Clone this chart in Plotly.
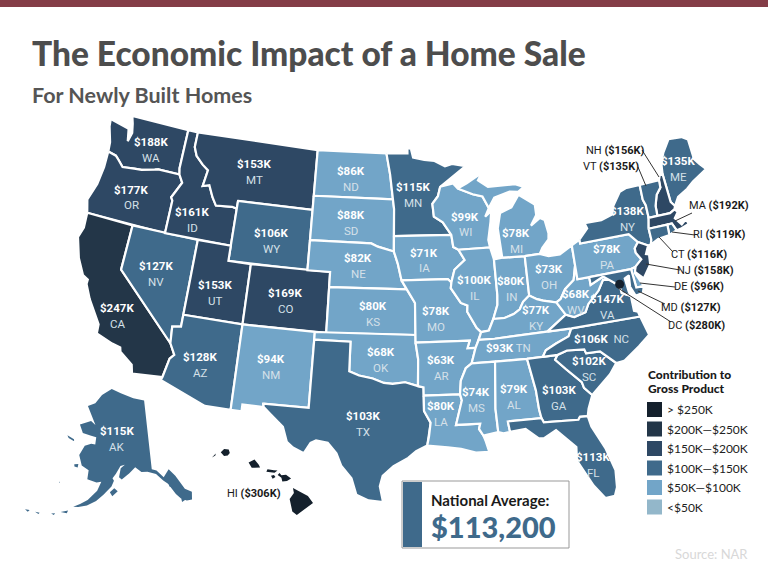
# coding:utf-8
import numpy as np
import plotly.graph_objects as go

W, H = 768, 576

# contribution to gross product, thousands of dollars
states = ["WA", "OR", "CA", "NV", "ID", "MT", "WY", "UT", "CO", "AZ", "NM", "ND", "SD", "NE", "KS", "OK", "TX",
          "MN", "IA", "MO", "AR", "LA", "WI", "IL", "IN", "MI", "OH", "KY", "TN", "MS", "AL", "GA", "FL", "SC",
          "NC", "VA", "WV", "PA", "NY", "ME", "NH", "VT", "MA", "RI", "CT", "NJ", "DE", "MD", "AK", "HI"]
values = [188, 177, 247, 127, 161, 153, 106, 153, 169, 128, 94, 86, 88, 82, 80, 68, 103,
          115, 71, 78, 63, 80, 99, 100, 80, 78, 73, 77, 93, 74, 79, 103, 113, 102,
          106, 147, 68, 78, 138, 135, 156, 135, 192, 119, 116, 158, 96, 127, 115, 306]
dc_value = 280
national_average = "$113,200"
band_labels = ["> $250K", "$200K—$250K", "$150K—$200K", "$100K—$150K", "$50K—$100K", "<$50K"]
band_colors = ["#14202c", "#233648", "#2e4864", "#3f6a8b", "#72a5c8", "#93b7ca"]

# simplified state outlines, lon/lat
outlines = {
    "WA": [[(-124.7, 48.4), (-123.1, 48.15), (-122.75, 48.1), (-122.5, 47.3), (-122.3, 47.9), (-122.5, 48.5), (-122.75, 49.0),
            (-117.03, 49.0), (-117.04, 46.4), (-116.92, 45.99), (-118.98, 46.0), (-119.3, 45.93), (-120.5, 45.7),
            (-121.2, 45.65), (-122.3, 45.55), (-122.8, 45.9), (-123.2, 46.15), (-124.0, 46.27), (-124.1, 46.9), (-124.6, 47.9)]],
    "OR": [[(-124.0, 46.27), (-123.2, 46.15), (-122.8, 45.9), (-122.3, 45.55), (-121.2, 45.65), (-120.5, 45.7), (-119.3, 45.93),
            (-118.98, 46.0), (-116.92, 45.99), (-116.5, 45.5), (-116.85, 44.95), (-117.2, 44.4), (-117.03, 44.2), (-117.03, 42.0),
            (-124.2, 42.0), (-124.55, 42.85), (-124.1, 44.0), (-123.95, 45.2)]],
    "CA": [[(-124.2, 42.0), (-120.0, 42.0), (-120.0, 39.0), (-114.63, 35.0), (-114.14, 34.3), (-114.45, 34.0), (-114.72, 32.72),
            (-117.12, 32.53), (-117.3, 33.1), (-118.4, 33.75), (-118.5, 34.03), (-119.2, 34.15), (-120.6, 34.55), (-120.65, 35.15),
            (-121.9, 36.6), (-122.5, 37.5), (-122.5, 37.8), (-123.0, 38.0), (-123.75, 39.0), (-124.35, 40.3), (-124.1, 41.0)]],
    "NV": [[(-120.0, 42.0), (-114.04, 42.0), (-114.04, 36.2), (-114.75, 36.1), (-114.63, 35.0), (-120.0, 39.0)]],
    "ID": [[(-117.03, 49.0), (-116.05, 49.0), (-116.05, 48.0), (-115.7, 47.45), (-114.95, 46.95), (-114.35, 46.65), (-114.55, 45.56),
            (-113.95, 45.7), (-113.45, 44.95), (-113.0, 44.45), (-111.5, 44.55), (-111.05, 44.48), (-111.05, 42.0), (-117.03, 42.0),
            (-117.03, 44.2), (-117.2, 44.4), (-116.85, 44.95), (-116.5, 45.5), (-116.92, 45.99), (-117.04, 46.4)]],
    "MT": [[(-116.05, 49.0), (-104.05, 49.0), (-104.05, 45.0), (-111.05, 45.0), (-111.05, 44.48), (-111.5, 44.55), (-113.0, 44.45),
            (-113.45, 44.95), (-113.95, 45.7), (-114.55, 45.56), (-114.35, 46.65), (-114.95, 46.95), (-115.7, 47.45), (-116.05, 48.0)]],
    "WY": [[(-111.05, 45.0), (-104.05, 45.0), (-104.05, 41.0), (-111.05, 41.0)]],
    "UT": [[(-114.04, 42.0), (-111.05, 42.0), (-111.05, 41.0), (-109.05, 41.0), (-109.05, 37.0), (-114.04, 37.0)]],
    "CO": [[(-109.05, 41.0), (-102.05, 41.0), (-102.05, 37.0), (-109.05, 37.0)]],
    "AZ": [[(-114.04, 37.0), (-109.05, 37.0), (-109.05, 31.33), (-111.07, 31.33), (-114.81, 32.5), (-114.72, 32.72), (-114.45, 34.0),
            (-114.14, 34.3), (-114.63, 35.0), (-114.75, 36.1), (-114.04, 36.2)]],
    "NM": [[(-109.05, 37.0), (-103.0, 37.0), (-103.04, 32.0), (-106.6, 32.0), (-106.53, 31.78), (-108.2, 31.78), (-108.2, 31.33), (-109.05, 31.33)]],
    "ND": [[(-104.05, 49.0), (-97.23, 49.0), (-96.85, 47.6), (-96.56, 45.94), (-104.05, 45.94)]],
    "SD": [[(-104.05, 45.94), (-96.56, 45.94), (-96.45, 45.3), (-96.45, 43.5), (-96.45, 42.49), (-97.9, 42.8), (-98.5, 43.0), (-104.05, 43.0)]],
    "NE": [[(-104.05, 43.0), (-98.5, 43.0), (-97.9, 42.8), (-96.45, 42.49), (-96.1, 41.7), (-95.9, 41.0), (-95.77, 40.59), (-95.31, 40.0),
            (-102.05, 40.0), (-102.05, 41.0), (-104.05, 41.0)]],
    "KS": [[(-102.05, 40.0), (-95.31, 40.0), (-94.62, 39.1), (-94.62, 37.0), (-102.05, 37.0)]],
    "OK": [[(-103.0, 37.0), (-94.62, 37.0), (-94.62, 36.5), (-94.43, 35.4), (-94.48, 33.64), (-95.5, 33.9), (-96.5, 33.8), (-97.2, 33.85),
            (-98.1, 34.13), (-99.2, 34.3), (-100.0, 34.56), (-100.0, 36.5), (-103.0, 36.5)]],
    "TX": [[(-106.6, 32.0), (-103.04, 32.0), (-103.0, 36.5), (-100.0, 36.5), (-100.0, 34.56), (-99.2, 34.3), (-98.1, 34.13), (-97.2, 33.85),
            (-96.5, 33.8), (-95.5, 33.9), (-94.48, 33.64), (-94.04, 33.55), (-94.04, 33.0), (-94.04, 31.99), (-93.55, 31.2), (-93.7, 30.3),
            (-93.85, 29.7), (-94.7, 29.35), (-95.3, 28.9), (-96.4, 28.35), (-97.2, 27.7), (-97.4, 27.0), (-97.15, 25.96), (-98.2, 26.05),
            (-99.1, 26.4), (-99.5, 27.5), (-100.3, 28.3), (-100.7, 29.1), (-101.4, 29.77), (-102.3, 29.88), (-102.7, 29.7), (-103.15, 28.98),
            (-104.0, 29.3), (-104.5, 29.65), (-104.9, 30.6), (-106.0, 31.4), (-106.53, 31.78)]],
    "MN": [[(-97.23, 49.0), (-95.15, 49.0), (-95.15, 49.38), (-94.8, 49.3), (-94.6, 48.72), (-93.5, 48.55), (-92.5, 48.45), (-91.5, 48.07),
            (-90.8, 48.2), (-89.5, 48.0), (-92.05, 46.72), (-92.3, 46.1), (-92.85, 45.6), (-92.75, 44.75), (-91.95, 44.35), (-91.22, 43.5),
            (-96.45, 43.5), (-96.45, 45.3), (-96.56, 45.94), (-96.85, 47.6)]],
    "IA": [[(-96.45, 43.5), (-91.22, 43.5), (-91.1, 42.7), (-90.65, 42.5), (-90.15, 41.8), (-91.1, 41.2), (-91.42, 40.38), (-91.73, 40.61),
            (-95.77, 40.59), (-95.9, 41.0), (-96.1, 41.7), (-96.45, 42.49)]],
    "MO": [[(-95.77, 40.59), (-91.73, 40.61), (-91.42, 40.38), (-91.5, 40.0), (-90.7, 39.0), (-90.15, 38.8), (-90.2, 38.4), (-89.5, 37.3),
            (-89.15, 37.0), (-89.4, 36.5), (-89.7, 36.0), (-90.37, 36.0), (-90.15, 36.5), (-94.62, 36.5), (-94.62, 37.0), (-94.62, 39.1), (-95.31, 40.0)]],
    "AR": [[(-94.62, 36.5), (-90.15, 36.5), (-90.37, 36.0), (-89.7, 36.0), (-90.1, 35.0), (-90.6, 34.7), (-91.05, 33.9), (-91.17, 33.0),
            (-94.04, 33.0), (-94.04, 33.55), (-94.48, 33.64), (-94.43, 35.4)]],
    "LA": [[(-94.04, 33.0), (-91.17, 33.0), (-91.05, 32.6), (-91.6, 31.0), (-89.73, 31.0), (-89.85, 30.65), (-89.55, 30.2), (-89.4, 29.8),
            (-89.2, 29.1), (-90.2, 29.1), (-91.3, 29.4), (-92.3, 29.55), (-93.85, 29.7), (-93.7, 30.3), (-93.55, 31.2), (-94.04, 31.99)]],
    "MS": [[(-90.1, 35.0), (-88.2, 35.0), (-88.47, 31.9), (-88.4, 30.35), (-89.55, 30.2), (-89.85, 30.65), (-89.73, 31.0), (-91.6, 31.0),
            (-91.05, 32.6), (-91.17, 33.0), (-91.05, 33.9), (-90.6, 34.7)]],
    "TN": [[(-90.1, 35.0), (-88.2, 35.0), (-85.6, 34.98), (-84.32, 34.99), (-84.0, 35.4), (-83.1, 35.75), (-82.0, 36.1), (-81.68, 36.59),
            (-83.68, 36.6), (-88.07, 36.5), (-89.4, 36.5), (-89.7, 36.0)]],
    "KY": [[(-89.15, 37.0), (-88.5, 37.07), (-88.05, 37.8), (-87.1, 37.8), (-86.3, 38.0), (-85.75, 38.27), (-85.4, 38.73), (-84.82, 39.1),
            (-84.2, 38.8), (-83.7, 38.65), (-82.6, 38.42), (-81.97, 37.54), (-83.68, 36.6), (-88.07, 36.5), (-89.4, 36.5)]],
    "IL": [[(-90.65, 42.5), (-87.8, 42.5), (-87.55, 41.7), (-87.53, 39.35), (-87.6, 38.7), (-88.05, 37.8), (-88.5, 37.07), (-89.15, 37.0),
            (-89.5, 37.3), (-90.2, 38.4), (-90.15, 38.8), (-90.7, 39.0), (-91.5, 40.0), (-91.42, 40.38), (-91.1, 41.2), (-90.15, 41.8)]],
    "IN": [[(-87.55, 41.7), (-87.2, 41.75), (-86.8, 41.76), (-84.8, 41.7), (-84.82, 39.1), (-85.4, 38.73), (-85.75, 38.27), (-86.3, 38.0),
            (-87.1, 37.8), (-88.05, 37.8), (-87.6, 38.7), (-87.53, 39.35)]],
    "OH": [[(-84.8, 41.7), (-83.45, 41.73), (-82.7, 41.5), (-81.7, 41.5), (-80.52, 41.98), (-80.52, 40.64), (-80.85, 39.7), (-81.7, 39.2),
            (-82.2, 38.6), (-82.6, 38.42), (-83.7, 38.65), (-84.2, 38.8), (-84.82, 39.1)]],
    "WI": [[(-92.05, 46.72), (-90.8, 46.9), (-90.4, 46.55), (-89.0, 46.1), (-88.1, 45.9), (-87.6, 45.1), (-88.0, 44.55), (-87.4, 44.9),
            (-87.55, 44.2), (-87.9, 43.0), (-87.8, 42.5), (-90.65, 42.5), (-91.1, 42.7), (-91.22, 43.5), (-91.95, 44.35), (-92.75, 44.75),
            (-92.85, 45.6), (-92.3, 46.1)]],
    "MI": [[(-86.8, 41.76), (-84.8, 41.7), (-83.45, 41.73), (-83.15, 42.1), (-82.5, 42.6), (-82.42, 43.0), (-82.6, 43.9), (-83.0, 44.07),
            (-83.9, 43.65), (-83.3, 44.3), (-83.3, 45.0), (-84.7, 45.78), (-85.5, 45.0), (-86.6, 44.7), (-86.95, 43.7), (-86.85, 42.8)],
           [(-90.4, 46.55), (-89.0, 46.1), (-88.1, 45.9), (-87.6, 45.1), (-87.0, 45.75), (-85.5, 46.05), (-84.7, 45.97), (-84.1, 46.25),
            (-84.9, 46.5), (-86.5, 46.5), (-87.5, 46.5), (-88.4, 47.0), (-88.0, 47.45), (-89.5, 46.85)]],
    "PA": [[(-80.52, 41.98), (-79.76, 42.27), (-79.76, 42.0), (-75.35, 42.0), (-75.1, 41.75), (-74.7, 41.36), (-75.1, 41.0), (-75.1, 40.7),
            (-74.75, 40.2), (-75.4, 39.8), (-75.8, 39.72), (-79.48, 39.72), (-80.52, 39.72), (-80.52, 40.64)]],
    "NY": [[(-79.76, 42.27), (-78.9, 42.9), (-79.05, 43.27), (-77.5, 43.27), (-76.4, 43.5), (-76.2, 44.0), (-75.3, 44.85), (-74.7, 45.0),
            (-73.35, 45.0), (-73.4, 44.0), (-73.25, 43.6), (-73.27, 42.75), (-73.5, 42.05), (-73.5, 41.3), (-73.65, 41.0), (-73.9, 40.99),
            (-74.7, 41.36), (-75.1, 41.75), (-75.35, 42.0), (-79.76, 42.0)]],
    "VT": [[(-73.35, 45.0), (-71.5, 45.0), (-71.55, 44.5), (-72.05, 44.1), (-72.4, 43.4), (-72.46, 42.73), (-73.27, 42.75), (-73.25, 43.6), (-73.4, 44.0)]],
    "NH": [[(-71.5, 45.0), (-71.3, 45.3), (-71.03, 45.3), (-70.98, 43.4), (-70.7, 43.07), (-70.82, 42.87), (-71.3, 42.7), (-72.46, 42.73),
            (-72.4, 43.4), (-72.05, 44.1), (-71.55, 44.5)]],
    "ME": [[(-71.03, 45.3), (-70.9, 45.9), (-70.7, 46.3), (-70.4, 46.7), (-69.6, 47.45), (-68.35, 47.35), (-67.8, 47.07), (-67.8, 45.7),
            (-67.45, 45.3), (-67.0, 44.85), (-68.5, 44.3), (-69.2, 43.95), (-70.2, 43.6), (-70.7, 43.07), (-70.98, 43.4)]],
    "MA": [[(-73.5, 42.05), (-73.27, 42.75), (-72.46, 42.73), (-71.3, 42.7), (-70.82, 42.87), (-70.6, 42.65), (-71.0, 42.3), (-70.65, 41.95),
            (-70.55, 41.78), (-70.05, 42.05), (-69.95, 41.7), (-70.65, 41.55), (-71.12, 41.5), (-71.38, 42.02), (-71.8, 42.02)]],
    "RI": [[(-71.8, 42.02), (-71.38, 42.02), (-71.12, 41.5), (-71.85, 41.32)]],
    "CT": [[(-73.5, 42.05), (-71.8, 42.02), (-71.85, 41.32), (-72.9, 41.25), (-73.65, 41.0), (-73.5, 41.3)]],
    "NJ": [[(-74.7, 41.36), (-73.9, 40.99), (-74.25, 40.47), (-74.0, 40.4), (-74.1, 39.75), (-74.9, 38.95), (-75.55, 39.5), (-75.4, 39.8),
            (-74.75, 40.2), (-75.1, 40.7), (-75.1, 41.0)]],
    "DE": [[(-75.8, 39.72), (-75.4, 39.8), (-75.55, 39.4), (-75.05, 38.45), (-75.7, 38.46)]],
    "MD": [[(-79.48, 39.72), (-75.8, 39.72), (-75.7, 38.46), (-75.05, 38.45), (-75.25, 38.03), (-75.9, 37.95), (-76.2, 38.6), (-76.1, 39.35),
            (-76.5, 39.2), (-76.4, 38.3), (-76.3, 38.0), (-77.0, 38.3), (-77.05, 38.8), (-77.5, 39.1), (-78.3, 39.6), (-79.48, 39.2)]],
    "VA": [[(-83.68, 36.6), (-81.97, 37.54), (-81.3, 37.3), (-80.3, 37.5), (-79.95, 38.0), (-78.9, 38.75), (-78.35, 39.4), (-77.75, 39.3),
            (-77.5, 39.1), (-77.05, 38.8), (-77.0, 38.3), (-76.3, 38.0), (-76.3, 37.0), (-76.0, 36.9), (-75.9, 36.55), (-81.68, 36.59)]],
    "WV": [[(-82.6, 38.42), (-82.2, 38.6), (-81.7, 39.2), (-80.85, 39.7), (-80.52, 40.64), (-80.52, 39.72), (-79.48, 39.72), (-79.48, 39.2),
            (-78.3, 39.6), (-77.75, 39.3), (-78.35, 39.4), (-78.9, 38.75), (-79.95, 38.0), (-80.3, 37.5), (-81.3, 37.3), (-81.97, 37.54)]],
    "NC": [[(-84.32, 34.99), (-84.0, 35.4), (-83.1, 35.75), (-82.0, 36.1), (-81.68, 36.59), (-75.9, 36.55), (-75.5, 35.25), (-76.5, 34.65),
            (-77.9, 33.9), (-78.55, 33.86), (-79.67, 34.8), (-80.8, 34.82), (-80.9, 35.1), (-82.3, 35.2), (-83.1, 35.0)]],
    "SC": [[(-83.1, 35.0), (-82.3, 35.2), (-80.9, 35.1), (-80.8, 34.82), (-79.67, 34.8), (-78.55, 33.86), (-79.2, 33.2), (-80.85, 32.05),
            (-81.4, 32.6), (-81.5, 33.0), (-82.6, 34.0), (-83.35, 34.7)]],
    "GA": [[(-85.6, 34.98), (-84.32, 34.99), (-83.1, 35.0), (-83.35, 34.7), (-82.6, 34.0), (-81.5, 33.0), (-81.4, 32.6), (-80.85, 32.05),
            (-81.3, 31.2), (-81.45, 30.72), (-82.05, 30.75), (-82.2, 30.57), (-84.86, 30.7), (-85.0, 31.0), (-85.1, 31.6), (-85.18, 32.87)]],
    "AL": [[(-88.2, 35.0), (-85.6, 34.98), (-85.18, 32.87), (-85.1, 31.6), (-85.0, 31.0), (-87.6, 31.0), (-87.5, 30.3), (-88.0, 30.25),
            (-88.4, 30.35), (-88.47, 31.9)]],
    "FL": [[(-87.6, 31.0), (-85.0, 31.0), (-84.86, 30.7), (-82.2, 30.57), (-82.05, 30.75), (-81.45, 30.72), (-81.3, 30.0), (-80.5, 28.4),
            (-80.05, 26.9), (-80.15, 25.75), (-80.4, 25.2), (-81.1, 25.15), (-81.8, 26.1), (-82.2, 26.9), (-82.75, 27.9), (-82.65, 28.8),
            (-83.4, 29.5), (-84.0, 30.1), (-85.0, 29.65), (-85.4, 29.7), (-86.3, 30.4), (-87.5, 30.3)]],
    "AK": [[(-141.0, 69.65), (-141.0, 60.3), (-139.5, 60.0), (-137.5, 58.9), (-135.5, 59.8), (-133.8, 58.7), (-131.8, 56.6), (-130.0, 55.9),
            (-130.5, 54.9), (-132.0, 55.0), (-133.5, 55.5), (-134.7, 56.3), (-136.5, 57.9), (-137.8, 58.5), (-139.8, 59.55), (-142.5, 60.05),
            (-144.5, 60.1), (-146.5, 60.8), (-148.5, 60.05), (-151.0, 59.2), (-151.9, 59.5), (-151.4, 60.7), (-150.0, 61.2), (-151.5, 61.0),
            (-153.0, 59.9), (-154.0, 59.3), (-153.5, 59.0), (-154.2, 58.2), (-156.5, 57.0), (-158.5, 56.0), (-161.0, 55.2), (-163.4, 54.75),
            (-164.8, 54.6), (-163.0, 55.2), (-161.0, 55.95), (-158.5, 57.4), (-157.5, 58.7), (-159.0, 58.5), (-162.0, 58.7), (-162.0, 59.9),
            (-164.5, 60.3), (-165.4, 61.1), (-166.0, 61.6), (-164.7, 63.0), (-162.5, 63.5), (-161.0, 63.5), (-161.0, 64.5), (-163.0, 64.55),
            (-166.3, 64.6), (-168.1, 65.6), (-164.0, 66.5), (-162.0, 66.1), (-163.8, 67.1), (-166.5, 68.35), (-163.5, 69.0), (-161.0, 70.3),
            (-156.6, 71.35), (-152.0, 70.85), (-146.0, 70.15)],
           [(-154.6, 57.4), (-153.3, 58.0), (-152.2, 57.6), (-153.8, 56.9)],
           [(-167.0, 60.2), (-165.7, 60.4), (-165.7, 59.9), (-166.8, 59.9)],
           [(-171.7, 63.6), (-169.0, 63.4), (-168.8, 63.15), (-171.0, 63.3)],
           [(-167.9, 53.4), (-166.0, 53.9), (-166.2, 53.5)],
           [(-170.3, 52.75), (-169.3, 53.0), (-169.5, 52.7)],
           [(-174.5, 52.1), (-173.3, 52.25), (-173.5, 52.0)],
           [(-177.2, 51.8), (-176.0, 52.0), (-176.3, 51.65)],
           [(-170.4, 57.25), (-170.1, 57.25), (-170.2, 57.1)],
           [(-136.5, 58.2), (-135.2, 58.2), (-135.3, 57.2), (-136.2, 57.5)],
           [(-134.6, 57.5), (-133.9, 57.4), (-134.3, 56.2), (-134.9, 56.5)],
           [(-133.5, 56.3), (-132.6, 56.2), (-132.0, 55.2), (-133.4, 55.0)]],
    "HI": [[(-155.88, 20.27), (-155.6, 20.13), (-155.08, 19.87), (-154.81, 19.52), (-155.3, 19.2), (-155.68, 18.92), (-155.92, 19.1),
            (-156.06, 19.73), (-155.83, 20.03)],
           [(-156.7, 20.93), (-156.6, 21.03), (-156.5, 20.92), (-156.25, 20.94), (-155.98, 20.75), (-156.2, 20.63), (-156.45, 20.6), (-156.5, 20.79)],
           [(-157.31, 21.1), (-157.25, 21.22), (-156.9, 21.17), (-156.71, 21.16), (-156.87, 21.05)],
           [(-157.06, 20.9), (-156.9, 20.93), (-156.82, 20.83), (-156.97, 20.74)],
           [(-158.27, 21.56), (-158.05, 21.68), (-157.95, 21.71), (-157.72, 21.45), (-157.65, 21.31), (-157.95, 21.29), (-158.1, 21.3)],
           [(-159.78, 22.07), (-159.6, 22.23), (-159.35, 22.21), (-159.29, 22.03), (-159.4, 21.9), (-159.6, 21.88)],
           [(-160.25, 21.8), (-160.05, 22.0), (-160.07, 21.9)]],
}
dc_lon, dc_lat = -77.03, 38.9


def band_color(v):
    for limit, c in zip([250, 200, 150, 100, 50], band_colors):
        if v > limit:
            return c
    return band_colors[-1]


def albers(lon, lat, lon0, lat0, p1, p2):
    lon, lat = np.radians(lon), np.radians(lat)
    lon0, lat0, p1, p2 = np.radians([lon0, lat0, p1, p2])
    n = (np.sin(p1) + np.sin(p2)) / 2
    c = np.cos(p1) ** 2 + 2 * n * np.sin(p1)
    rho = np.sqrt(c - 2 * n * np.sin(lat)) / n
    rho0 = np.sqrt(c - 2 * n * np.sin(lat0)) / n
    return rho * np.sin(n * (lon - lon0)), rho0 - rho * np.cos(n * (lon - lon0))


# one cartesian panel per part of the country: projection, pixel box on the page
panels = {
    "": dict(names=[s for s in states if s not in ("AK", "HI")], proj=(-96, 37.5, 29.5, 45.5), box=(78, 706, 116, 502), line=2.2),
    "2": dict(names=["AK"], proj=(-150, 62, 55, 65), box=(25, 192, 389, 515), line=0),
    "3": dict(names=["HI"], proj=(-157, 20, 8, 18), box=(212, 313, 449, 515), line=0),
}

fig = go.Figure()
for key, p in panels.items():
    xs, ys = [], []
    for s in p["names"]:
        x, y = [], []
        for ring in outlines[s]:
            rx, ry = albers(np.array([q[0] for q in ring + ring[:1]]), np.array([q[1] for q in ring + ring[:1]]), *p["proj"])
            x += list(rx) + [None]
            y += list(ry) + [None]
            xs += list(rx)
            ys += list(ry)
        v = values[states.index(s)]
        fig.add_trace(go.Scatter(x=x, y=y, mode="lines", fill="toself", fillcolor=band_color(v), name=s,
                                 line=dict(color="white", width=p["line"]), hoveron="fills", text="%s: $%dK" % (s, v),
                                 hoverinfo="text", xaxis="x" + key, yaxis="y" + key))
    x0, x1, y0, y1 = p["box"]
    fig.update_layout({"xaxis" + key: dict(domain=[x0 / W, x1 / W], range=[min(xs), max(xs)], visible=False, anchor="y" + key),
                       "yaxis" + key: dict(domain=[1 - y1 / H, 1 - y0 / H], range=[min(ys), max(ys)], visible=False, anchor="x" + key)})

dx, dy = albers(np.array([dc_lon]), np.array([dc_lat]), *panels[""]["proj"])
fig.add_trace(go.Scatter(x=dx, y=dy, mode="markers", marker=dict(size=9, color=band_color(dc_value)), name="DC",
                         text="DC: $%dK" % dc_value, hoverinfo="text"))

NARROW = "Roboto, sans-serif"
HEAD = "Lato, sans-serif"


def text(x, y, s, size, color, family=NARROW, anchor="center", weight=None):
    fig.add_annotation(x=x / W, y=1 - y / H, xref="paper", yref="paper", text=s, showarrow=False,
                       xanchor=anchor, yanchor="middle", font=dict(size=size, color=color, family=family, weight=weight))


def rect(x0, y0, x1, y1, fill, line=None):
    fig.add_shape(type="rect", xref="paper", yref="paper", x0=x0 / W, x1=x1 / W, y0=1 - y0 / H, y1=1 - y1 / H,
                  fillcolor=fill, line=dict(color=line or fill, width=1 if line else 0))


# where each state's two-line label sits
label_pos = {"WA": (151, 142), "OR": (131, 190), "CA": (117, 308), "NV": (156, 266), "ID": (192, 212), "MT": (254, 164),
             "WY": (271, 233), "UT": (215, 285), "CO": (285, 293), "AZ": (200, 357), "NM": (271, 359), "ND": (351, 171),
             "SD": (351, 215), "NE": (358, 258), "KS": (373, 306), "OK": (381, 352), "TX": (363, 416), "MN": (413, 187),
             "IA": (424, 253), "MO": (436, 311), "AR": (441, 360), "LA": (441, 406), "WI": (465, 217), "IL": (474, 280),
             "IN": (511, 281), "MI": (516, 233), "OH": (549, 269), "KY": (536, 310), "MS": (476, 392), "AL": (514, 389),
             "GA": (559, 390), "SC": (589, 361), "FL": (593, 457), "VA": (607, 299), "WV": (576, 294), "PA": (607, 249),
             "NY": (627, 211), "ME": (678, 161), "AK": (117, 431)}
for s, (x, y) in label_pos.items():
    text(x, y, "<b>$%dK</b>" % values[states.index(s)], 11.5, "white")
    text(x, y + 15.5, s, 11.5, "#d5e0e8")
text(508, 348, "<b>$%dK</b> <span style='color:#d5e0e8'>TN</span>" % values[states.index("TN")], 11.5, "white")
text(601, 339, "<b>$%dK</b> <span style='color:#d5e0e8'> NC</span>" % values[states.index("NC")], 11.5, "white")

# small states labelled off the map, with leader lines
callouts = {"NH": (615, 150, 642, 150, 659, 177), "VT": (611, 166, 638, 167, 646, 186), "MA": (719, 206, 692, 213, 675, 221),
            "RI": (719, 234, 695, 235, 672, 232), "CT": (699, 254, 673, 252, 659, 237), "NJ": (705, 270, 680, 270, 646, 264),
            "DE": (699, 286, 675, 287, 640, 283), "MD": (691, 307, 665, 304, 638, 291), "DC": (696, 325, 671, 322, 618, 288)}
for s, (x, y, x0, y0, x1, y1) in callouts.items():
    v = dc_value if s == "DC" else values[states.index(s)]
    text(x, y, "%s <b>($%dK)</b>" % (s, v), 11, "#1a1a1a")
    fig.add_shape(type="line", xref="paper", yref="paper", x0=x0 / W, x1=x1 / W, y0=1 - y0 / H, y1=1 - y1 / H,
                  line=dict(color="#333333", width=1))
text(254, 493, "HI <b>($%dK)</b>" % values[states.index("HI")], 11, "#1a1a1a")

# header
rect(0, 0, W, 7, "#843d47")
text(30, 53, "The Economic Impact of a Home Sale", 33.5, "#4d4d4d", HEAD, "left", 900)
text(30, 95, "For Newly Built Homes", 21.5, "#555555", HEAD, "left", 700)

# legend
text(646, 374, "Contribution to", 12, "#1a1a1a", HEAD, "left", 900)
text(646, 388, "Gross Product", 12, "#1a1a1a", HEAD, "left", 900)
for i, (lab, c) in enumerate(zip(band_labels, band_colors)):
    y0 = 402 + i * 19.5
    rect(647, y0, 662, y0 + 15, c)
    text(665, y0 + 7.5, lab, 12, "#222222", HEAD, "left")

# national average box
rect(402, 481, 569, 548, "white", "#999999")
rect(403, 482, 422, 547, "#3f6a8b")
text(429, 500, "National Average:", 15, "#1a1a1a", HEAD, "left", 700)
text(429, 526, national_average, 29, "#3f6a8b", HEAD, "left", 900)
text(750, 554, "Source: NAR", 13, "#d8d8d8", HEAD, "right")

fig.update_layout(width=W, height=H, margin=dict(l=0, r=0, t=0, b=0), paper_bgcolor="white", plot_bgcolor="rgba(0,0,0,0)",
                  showlegend=False)
fig.write_html("out.html", config={"displayModeBar": False},
               post_script="document.body.style.margin='0';document.documentElement.style.overflow='hidden';")
